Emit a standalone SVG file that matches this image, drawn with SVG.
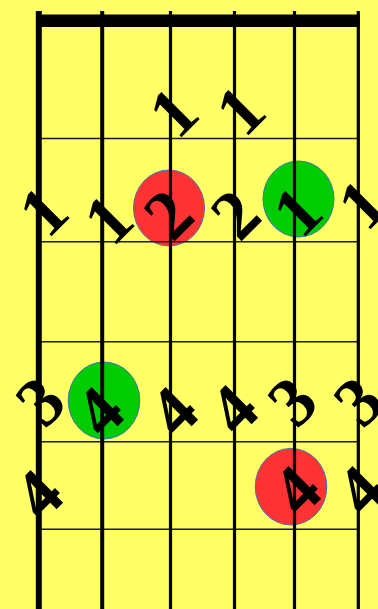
<svg xmlns="http://www.w3.org/2000/svg" width="378" height="609" viewBox="0 0 378 609">
<style>
.bg{fill:#ffff66}
.fret{stroke:#1a1a1a;stroke-width:1.6}
.str{stroke:#000}
.red{fill:#ff3333;stroke:#4a6fb0;stroke-width:1}
.grn{fill:#00cc00;stroke:#4a6fb0;stroke-width:1}
.n{font-family:"Liberation Serif","DejaVu Serif",serif;font-weight:bold;font-size:70px;text-anchor:middle;fill:#000}
</style>
<rect class="bg" x="0" y="0" width="378" height="609"/>
<g id="dots">
<ellipse id="d1" class="red" cx="169" cy="208" rx="35.5" ry="38"/>
<ellipse id="d2" class="grn" cx="298.5" cy="199" rx="35.5" ry="38"/>
<ellipse id="d3" class="grn" cx="104" cy="400.5" rx="35.8" ry="38.5"/>
<ellipse id="d4" class="red" cx="291" cy="486.7" rx="35.8" ry="38.3"/>
</g>
<g id="grid">
<line class="fret" x1="38" y1="138.5" x2="358" y2="138.5"/>
<line class="fret" x1="38" y1="241.7" x2="358" y2="241.7"/>
<line class="fret" x1="38" y1="341.7" x2="358" y2="341.7"/>
<line class="fret" x1="38" y1="441.7" x2="358" y2="441.7"/>
<line class="fret" x1="38" y1="529.3" x2="358" y2="529.3"/>
<line class="str" x1="38.8" y1="11" x2="38.8" y2="609" stroke-width="6"/>
<line class="str" x1="102.2" y1="11" x2="102.2" y2="609" stroke-width="4"/>
<line class="str" x1="170.5" y1="11" x2="170.5" y2="609" stroke-width="3.2"/>
<line class="str" x1="234.5" y1="11" x2="234.5" y2="609" stroke-width="3.2"/>
<line class="str" x1="294.5" y1="11" x2="294.5" y2="609" stroke-width="3.2"/>
<line class="str" x1="358.3" y1="11" x2="358.3" y2="609" stroke-width="3.2"/>
<rect x="36" y="14.5" width="324" height="12.5" fill="#000"/>
</g>
<g id="labels">
<text class="n" transform="translate(173,112) rotate(-45)" y="24">1</text>
<text class="n" transform="translate(240,110) rotate(-45)" y="24">1</text>
<text class="n" transform="translate(43,211) rotate(-45)" y="24">1</text>
<text class="n" transform="translate(108,219) rotate(-45)" y="24">1</text>
<text class="n" transform="translate(168,214) rotate(-45)" y="24">2</text>
<text class="n" transform="translate(235,214) rotate(-45)" y="24">2</text>
<text class="n" transform="translate(297,211) rotate(-45)" y="24">1</text>
<text class="n" transform="translate(362,204) rotate(-45)" y="24">1</text>
<text class="n" transform="translate(40,401) rotate(-45)" y="24">3</text>
<text class="n" transform="translate(99,411) rotate(-45)" y="24">4</text>
<text class="n" transform="translate(173,411) rotate(-45)" y="24">4</text>
<text class="n" transform="translate(233,409) rotate(-45)" y="24">4</text>
<text class="n" transform="translate(292,401) rotate(-45)" y="24">3</text>
<text class="n" transform="translate(358,401) rotate(-45)" y="24">3</text>
<text class="n" transform="translate(38,494) rotate(-45)" y="24">4</text>
<text class="n" transform="translate(296,490) rotate(-45)" y="24">4</text>
<text class="n" transform="translate(360,490) rotate(-45)" y="24">4</text>
</g>
</svg>
